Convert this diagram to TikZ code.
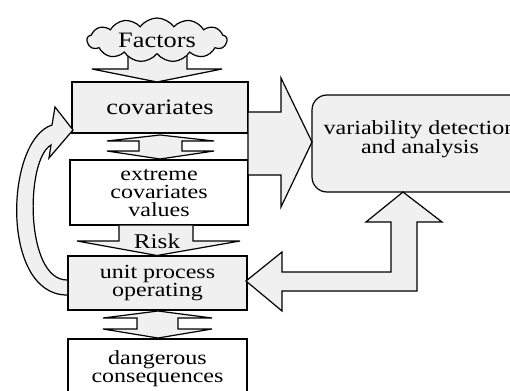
\documentclass[tikz,border=0pt]{standalone}
\usepackage{fontspec}
\setmainfont[FakeStretch=1.2]{Liberation Serif}
\usetikzlibrary{shapes.symbols}

\definecolor{boxgray}{HTML}{F0F0F0}

\tikzset{
  box/.style={draw, line width=1.2pt, fill=boxgray, inner sep=0pt, align=center,
    font=\fontsize{20}{18}\selectfont},
  whitebox/.style={box, fill=white},
  bigtext/.style={font=\fontsize{22}{18}\selectfont},
  blockarrow/.style={draw, line width=1.2pt, fill=boxgray, line join=miter},
}

\begin{document}
\begin{tikzpicture}[x=1pt, y=-1pt]
  \useasboundingbox (0,0) rectangle (510,390);

  % boxes
  \node[box, bigtext, minimum width=176, minimum height=51] (cov) at (160,107.5) {covariates};
  \node[whitebox, minimum width=178, minimum height=65] (ext) at (159,192.5)
    {extreme\\covariates\\values};
  \node[box, minimum width=179, minimum height=54] (unit) at (157.5,283)
    {unit process\\operating};
  \node[whitebox, minimum width=179, minimum height=60] (dang) at (157.5,369)
    {dangerous\\consequences};
  \node[box, rounded corners=15pt, minimum width=216, minimum height=97] (var) at (420,143.5) {};
  \node[font=\fontsize{20}{18}\selectfont, align=center] (vartext) at ([yshift=4.5pt]var.center)
    {variability detection\\and analysis};

  % Factors into covariates
  \draw[blockarrow] (128,56) -- (128,69) -- (92,69) -- (157,82) -- (222,69) -- (187,69) -- (187,56);
  \node[box, bigtext, shape=cloud, cloud puffs=13, cloud puff arc=110, cloud ignores aspect,
    minimum width=140, minimum height=44] (factors) at (157,40) {Factors};

  % double arrows
  \draw[blockarrow] (160,135) -- (214,141) -- (182,141) -- (182,151) -- (214,151) -- (160,159)
    -- (107,151) -- (139,151) -- (139,141) -- (107,141) -- cycle;
  \draw[blockarrow] (158,311) -- (212,318) -- (178,318) -- (178,329) -- (212,329) -- (158,338)
    -- (103,329) -- (137,329) -- (137,318) -- (103,318) -- cycle;

  % Risk
  \draw[blockarrow] (119,225.5) -- (119,241) -- (77,241) -- (157,255.5) -- (240,241) -- (193,241) -- (193,225.5);
  \node[font=\fontsize{21}{18}\selectfont] (risk) at (157,241) {Risk};

  % to the analysis
  \draw[blockarrow] (248,112) -- (281,112) -- (281,78) -- (312,142) -- (281,207) -- (281,175)
    -- (248,175) -- cycle;
  \draw[blockarrow] (403,192) -- (442,222) -- (417,222) -- (417,291) -- (282,291) -- (282,311)
    -- (246,281) -- (282,252) -- (282,272) -- (391,272) -- (391,222) -- (366,222) -- cycle;

  % feedback loop
  \draw[blockarrow] (67,280) .. controls (25,280) and (25,160) .. (51,145)
    -- (49,158) -- (73,130) -- (55,107) -- (52,125)
    .. controls (5,140) and (0,295) .. (67,295);
\end{tikzpicture}
\end{document}
